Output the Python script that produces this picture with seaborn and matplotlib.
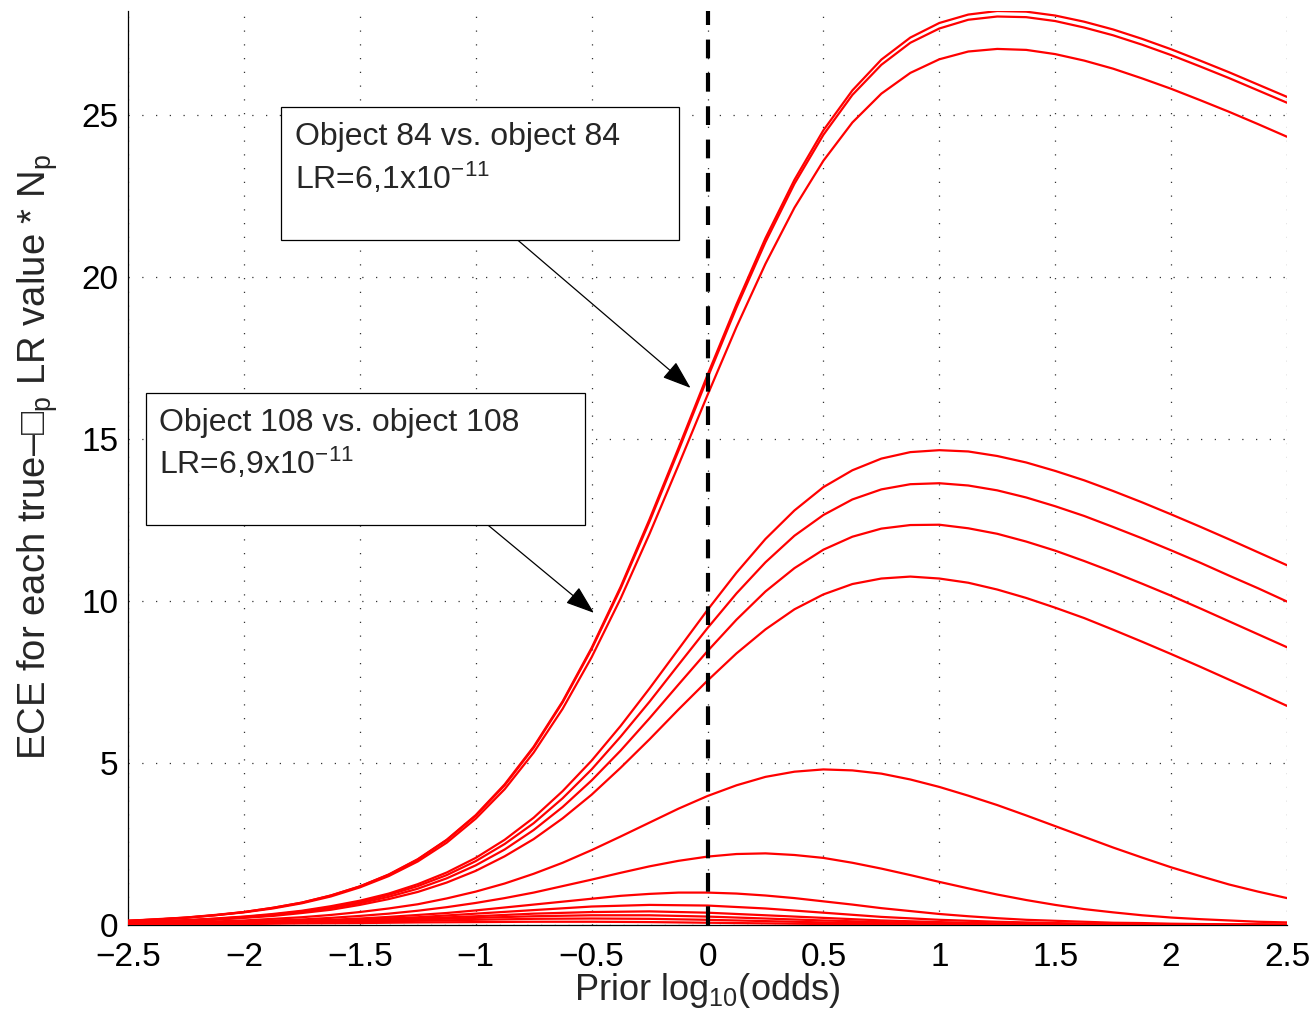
import matplotlib
matplotlib.use("Agg")
import matplotlib.pyplot as plt
from matplotlib.patches import Rectangle
import seaborn as sns
import pandas as pd

# ---------------- data ----------------
# fine x grid used for the large, clearly visible curves
prior_log_odds_fine = [-2.5, -2.375, -2.25, -2.125, -2.0, -1.875, -1.75, -1.625,
                       -1.5, -1.375, -1.25, -1.125, -1.0, -0.875, -0.75, -0.625,
                       -0.5, -0.375, -0.25, -0.125, 0.0, 0.125, 0.25, 0.375,
                       0.5, 0.625, 0.75, 0.875, 1.0, 1.125, 1.25, 1.375,
                       1.5, 1.625, 1.75, 1.875, 2.0, 2.125, 2.25, 2.375, 2.5]
# coarse x grid used for the small curves near zero
prior_log_odds_coarse = [-2.5, -2.25, -2.0, -1.75, -1.5, -1.25, -1.0, -0.75, -0.5,
                         -0.25, 0.0, 0.25, 0.5, 0.75, 1.0, 1.25, 1.5, 1.75, 2.0,
                         2.25, 2.5]

ece_a = [0.13, 0.18, 0.23, 0.31, 0.40, 0.53, 0.69, 0.91, 1.19, 1.56, 2.03, 2.63,
         3.39, 4.34, 5.50, 6.90, 8.55, 10.43, 12.52, 14.72, 16.97, 19.15, 21.19,
         22.99, 24.52, 25.75, 26.70, 27.38, 27.83, 28.09, 28.20, 28.18, 28.06,
         27.87, 27.63, 27.34, 27.02, 26.67, 26.31, 25.93, 25.55]
ece_b = [0.13, 0.17, 0.23, 0.30, 0.40, 0.53, 0.69, 0.91, 1.19, 1.55, 2.02, 2.62,
         3.37, 4.31, 5.47, 6.87, 8.51, 10.38, 12.45, 14.64, 16.88, 19.05, 21.07,
         22.87, 24.38, 25.61, 26.54, 27.22, 27.66, 27.93, 28.03, 28.01, 27.89,
         27.69, 27.45, 27.16, 26.84, 26.49, 26.13, 25.75, 25.37]
ece_c = [0.13, 0.17, 0.22, 0.30, 0.39, 0.51, 0.67, 0.88, 1.16, 1.51, 1.96, 2.54,
         3.28, 4.19, 5.32, 6.67, 8.26, 10.07, 12.07, 14.19, 16.35, 18.45, 20.40,
         22.13, 23.58, 24.76, 25.65, 26.29, 26.71, 26.95, 27.03, 27.00, 26.87,
         26.67, 26.42, 26.12, 25.80, 25.45, 25.09, 24.71, 24.32]
ece_d = [0.09, 0.11, 0.15, 0.20, 0.26, 0.34, 0.44, 0.58, 0.75, 0.97, 1.26, 1.62,
         2.07, 2.63, 3.31, 4.13, 5.07, 6.14, 7.30, 8.51, 9.72, 10.87, 11.91,
         12.79, 13.51, 14.03, 14.39, 14.59, 14.65, 14.61, 14.47, 14.27, 14.01,
         13.72, 13.39, 13.04, 12.67, 12.29, 11.90, 11.50, 11.10]
ece_e = [0.08, 0.11, 0.14, 0.19, 0.25, 0.32, 0.42, 0.55, 0.71, 0.93, 1.20, 1.54,
         1.97, 2.50, 3.14, 3.91, 4.80, 5.81, 6.89, 8.03, 9.16, 10.23, 11.19,
         12.01, 12.65, 13.13, 13.44, 13.60, 13.63, 13.56, 13.41, 13.19, 12.92,
         12.62, 12.28, 11.93, 11.56, 11.18, 10.78, 10.39, 9.98]
ece_f = [0.08, 0.10, 0.14, 0.18, 0.23, 0.30, 0.40, 0.52, 0.67, 0.87, 1.12, 1.44,
         1.84, 2.33, 2.93, 3.64, 4.46, 5.38, 6.38, 7.42, 8.45, 9.42, 10.29,
         11.01, 11.58, 11.98, 12.23, 12.34, 12.35, 12.24, 12.07, 11.83, 11.55,
         11.23, 10.89, 10.53, 10.16, 9.77, 9.37, 8.97, 8.57]
ece_g = [0.07, 0.10, 0.13, 0.16, 0.22, 0.28, 0.37, 0.47, 0.62, 0.80, 1.02, 1.31,
         1.67, 2.12, 2.65, 3.29, 4.02, 4.85, 5.73, 6.65, 7.54, 8.38, 9.12,
         9.74, 10.20, 10.52, 10.69, 10.75, 10.69, 10.56, 10.35, 10.09, 9.79,
         9.47, 9.11, 8.74, 8.36, 7.97, 7.57, 7.17, 6.76]
ece_h = [0.05, 0.07, 0.09, 0.11, 0.14, 0.19, 0.24, 0.31, 0.40, 0.51, 0.64, 0.82,
         1.03, 1.28, 1.58, 1.92, 2.31, 2.73, 3.16, 3.59, 3.98, 4.31, 4.57,
         4.73, 4.80, 4.77, 4.67, 4.49, 4.26, 3.99, 3.70, 3.38, 3.05, 2.72,
         2.39, 2.08, 1.78, 1.51, 1.25, 1.03, 0.83]
ece_i = [0.04, 0.05, 0.065, 0.08, 0.11, 0.14, 0.17, 0.22, 0.28, 0.35, 0.44, 0.55,
         0.68, 0.83, 1.00, 1.20, 1.40, 1.61, 1.81, 1.98, 2.11, 2.19, 2.21,
         2.16, 2.07, 1.92, 1.74, 1.54, 1.33, 1.13, 0.94, 0.77, 0.62, 0.49,
         0.39, 0.30, 0.23, 0.18, 0.14, 0.10, 0.08]
ece_j = [0.03, 0.04, 0.05, 0.06, 0.08, 0.10, 0.13, 0.16, 0.20, 0.25, 0.31, 0.37,
         0.45, 0.54, 0.63, 0.72, 0.81, 0.90, 0.96, 1.00, 1.00, 0.97, 0.91,
         0.83, 0.73, 0.63, 0.52, 0.43, 0.34, 0.27, 0.21, 0.16, 0.13, 0.10,
         0.07, 0.06, 0.04, 0.03, 0.02, 0.02, 0.01]

ece_k = [0.03, 0.04, 0.07, 0.11, 0.17, 0.24, 0.35, 0.46, 0.57, 0.62, 0.60,
         0.51, 0.38, 0.25, 0.16, 0.10, 0.06, 0.03, 0.02, 0.01, 0.01]
ece_l = [0.02, 0.04, 0.06, 0.09, 0.14, 0.20, 0.27, 0.35, 0.40, 0.42, 0.38,
         0.30, 0.22, 0.14, 0.09, 0.05, 0.03, 0.02, 0.01, 0.01, 0.00]
ece_m = [0.02, 0.04, 0.05, 0.08, 0.12, 0.17, 0.22, 0.27, 0.30, 0.30, 0.26,
         0.20, 0.14, 0.09, 0.06, 0.03, 0.02, 0.01, 0.01, 0.00, 0.00]
ece_n = [0.02, 0.03, 0.05, 0.07, 0.10, 0.13, 0.16, 0.19, 0.20, 0.19, 0.16,
         0.12, 0.08, 0.05, 0.03, 0.02, 0.01, 0.01, 0.00, 0.00, 0.00]
ece_o = [0.02, 0.02, 0.03, 0.05, 0.06, 0.08, 0.09, 0.10, 0.10, 0.09, 0.07,
         0.05, 0.03, 0.02, 0.01, 0.01, 0.00, 0.00, 0.00, 0.00, 0.00]

x_ticks = [-2.5, -2, -1.5, -1, -0.5, 0, 0.5, 1, 1.5, 2, 2.5]
x_tick_labels = ["\u22122.5", "\u22122", "\u22121.5", "\u22121", "\u22120.5", "0",
                 "0.5", "1", "1.5", "2", "2.5"]
y_ticks = [0, 5, 10, 15, 20, 25]
y_tick_labels = ["0", "5", "10", "15", "20", "25"]

annot1_lines = ["Object 84 vs. object 84", "LR=6,1x10$^{\u221211}$"]
annot2_lines = ["Object 108 vs. object 108", "LR=6,9x10$^{\u221211}$"]

fine_curves = {"a": ece_a, "b": ece_b, "c": ece_c, "d": ece_d, "e": ece_e,
               "f": ece_f, "g": ece_g, "h": ece_h, "i": ece_i, "j": ece_j}
coarse_curves = {"k": ece_k, "l": ece_l, "m": ece_m, "n": ece_n, "o": ece_o}

rows = []
for name, vals in fine_curves.items():
    for xv, yv in zip(prior_log_odds_fine, vals):
        rows.append({"curve": name, "x": xv, "ece": yv})
for name, vals in coarse_curves.items():
    for xv, yv in zip(prior_log_odds_coarse, vals):
        rows.append({"curve": name, "x": xv, "ece": yv})
df = pd.DataFrame(rows)

# ---------------- style ----------------
sns.set_style("white")
plt.rcParams["font.family"] = ["Liberation Sans", "DejaVu Sans"]
plt.rcParams["mathtext.fontset"] = "custom"
plt.rcParams["mathtext.rm"] = "Liberation Sans"
plt.rcParams["mathtext.it"] = "Liberation Sans"
plt.rcParams["mathtext.default"] = "rm"

W, H = 1316, 1018
fig = plt.figure(figsize=(W / 100, H / 100), dpi=100)
ax = fig.add_axes([128 / W, 1 - 925 / H, (1287 - 128) / W, (925 - 11) / H])

sns.lineplot(data=df, x="x", y="ece", units="curve", estimator=None, sort=False,
             color="#ff0000", linewidth=1.6, ax=ax, legend=False, zorder=3)

ax.set_xlim(-2.5, 2.5)
ax.set_ylim(0, max(ece_a))

ax.axvline(0, color="black", linewidth=3.0, dashes=(4.5, 3.5), zorder=4)

ax.set_xticks(x_ticks)
ax.set_xticklabels(x_tick_labels)
ax.set_yticks(y_ticks)
ax.set_yticklabels(y_tick_labels)
ax.tick_params(direction="in", length=8.5, width=0.8, labelsize=24,
               colors="black")
ax.tick_params(axis="y", pad=7)
ax.tick_params(axis="x", pad=12)

ax.grid(True, color="#333333", linewidth=0.9, dashes=(1, 10))
ax.set_axisbelow(True)
for side in ("top", "right"):
    ax.spines[side].set_visible(False)
for side in ("left", "bottom"):
    ax.spines[side].set_color("black")
    ax.spines[side].set_linewidth(0.9)

ax.set_xlabel("Prior log$_{10}$(odds)", fontsize=26, labelpad=-1)
ax.set_ylabel("ECE for each true\u2013\u25a1$_{p}$ LR value * N$_{p}$",
              fontsize=27.5, labelpad=15, y=0.512)

# ---------------- annotation boxes ----------------


def fig_box(left, top, right, bottom):
    fig.patches.append(Rectangle((left / W, 1 - bottom / H),
                                 (right - left) / W, (bottom - top) / H,
                                 transform=fig.transFigure, facecolor="white",
                                 edgecolor="black", linewidth=0.9, zorder=5))


fig_box(281, 107, 679, 240)
fig_box(146, 393, 585, 525)
fig.text(295 / W, 1 - 145 / H, annot1_lines[0], fontsize=23, va="baseline", zorder=6)
fig.text(295 / W, 1 - 189 / H, annot1_lines[1], fontsize=23, va="baseline", zorder=6)
fig.text(159 / W, 1 - 431 / H, annot2_lines[0], fontsize=23, va="baseline", zorder=6)
fig.text(159 / W, 1 - 474 / H, annot2_lines[1], fontsize=23, va="baseline", zorder=6)

arrow_kw = dict(arrowstyle="-|>,head_length=0.9,head_width=0.32",
                color="black", lw=0.9, mutation_scale=20, shrinkA=0, shrinkB=0)
ax.annotate("", xy=(-0.073, 16.57), xytext=(-0.82, 21.14),
            arrowprops=arrow_kw, zorder=6)
ax.annotate("", xy=(-0.49, 9.63), xytext=(-0.949, 12.35),
            arrowprops=arrow_kw, zorder=6)

fig.savefig("out.png", dpi=100)
